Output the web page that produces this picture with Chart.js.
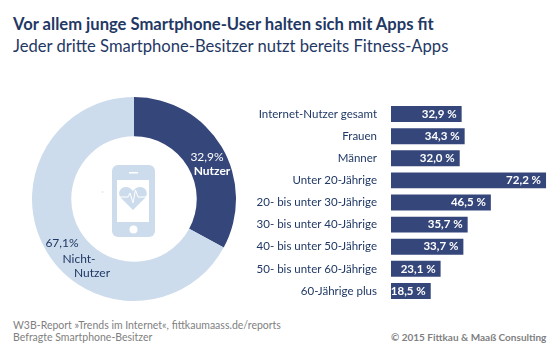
<!DOCTYPE html>
<html>
<head>
<meta charset="utf-8">
<script src="https://cdn.jsdelivr.net/npm/chart.js@4"></script>
<style>
    html, body { margin: 0; padding: 0; background: #fff; }
    body { width: 560px; height: 350px; position: relative; overflow: hidden; font-family: Lato, sans-serif; }
    canvas { position: absolute; }
    .txt { position: absolute; white-space: nowrap; line-height: 1; }
    .title { left: 13px; color: #1f3864; }
    .note { left: 13px; color: #7f7f7f; font-size: 10.5px; }
    .lbl { font-size: 12px; transform: translateX(-50%); }
</style>
</head>
<body>
<div class="txt title" style="top:16px;font-size:16.6px;font-weight:700">Vor allem junge Smartphone-User halten sich mit Apps fit</div>
<div class="txt title" style="top:38px;font-size:16.6px">Jeder dritte Smartphone-Besitzer nutzt bereits Fitness-Apps</div>

<canvas id="donut" width="220" height="220" style="left:24px;top:89px"></canvas>
<canvas id="bars" width="310" height="199" style="left:250px;top:103px"></canvas>

<svg style="position:absolute;left:100px;top:160px" width="70" height="82" viewBox="0 0 70 82">
    <rect x="12" y="5" width="43" height="72" rx="6" fill="#cddcec"/>
    <rect x="17" y="20" width="32" height="42" fill="#fff"/>
    <rect x="29" y="12" width="9" height="1.5" fill="#fff"/>
    <circle cx="33.5" cy="69.5" r="4" fill="#fff"/>
    <path d="M33 50 L21 38 C17 33 20 27 26 27 C29 27 31.500 29 33 31 C34.500 29 37 27 40 27 C46 27 49 33 45 38 Z" fill="#cddcec"/>
    <path d="M20 37 H28 L30 33 L33 43 L35.500 30 L38 37 H46" fill="none" stroke="#fff" stroke-width="1"/>
    <circle cx="2.500" cy="32" r="1" fill="#e4e8ee"/>
</svg>

<div class="txt lbl" style="left:207px;top:151px;color:#fff">32,9%</div>
<div class="txt lbl" style="left:212px;top:165px;color:#fff;font-weight:700">Nutzer</div>
<div class="txt lbl" style="left:62px;top:237px;color:#1f3864">67,1%</div>
<div class="txt lbl" style="left:79px;top:253px;color:#1f3864">Nicht-</div>
<div class="txt lbl" style="left:92px;top:267px;color:#1f3864">Nutzer</div>

<div class="txt note" style="top:320px">W3B-Report »Trends im Internet«, fittkaumaass.de/reports</div>
<div class="txt note" style="top:332px">Befragte Smartphone-Besitzer</div>
<div class="txt note" style="left:391px;top:332px;font-size:10px;font-weight:700">© 2015 Fittkau &amp; Maaß Consulting</div>

<script>
const dark = '#34467a';
const light = '#cddcec';

const donutLabels = ['Nutzer', 'Nicht-Nutzer'];
const donutValues = [32.9, 67.1];

const barLabels = [
    'Internet-Nutzer gesamt', 'Frauen', 'Männer', 'Unter 20-Jährige',
    '20- bis unter 30-Jährige', '30- bis unter 40-Jährige',
    '40- bis unter 50-Jährige', '50- bis unter 60-Jährige', '60-Jährige plus'
];
const barValues = [32.9, 34.3, 32.0, 72.2, 46.5, 35.7, 33.7, 23.1, 18.5];

// white value text at the inner end of each bar
const valueLabels = {
    id: 'valueLabels',
    afterDatasetsDraw(chart) {
        const ctx = chart.ctx;
        const meta = chart.getDatasetMeta(0);
        ctx.save();
        ctx.fillStyle = '#fff';
        ctx.font = '700 11.5px Lato, sans-serif';
        ctx.textAlign = 'right';
        ctx.textBaseline = 'middle';
        meta.data.forEach(function (bar, i) {
            let text = barValues[i].toFixed(1).replace('.', ',') + ' %';
            ctx.fillText(text, bar.x - 5, bar.y);
        });
        ctx.restore();
    }
};

new Chart(document.getElementById('donut'), {
    type: 'doughnut',
    data: {
        labels: donutLabels,
        datasets: [{ data: donutValues, backgroundColor: [dark, light], borderWidth: 0 }]
    },
    options: {
        responsive: false,
        animation: false,
        cutout: '61.5%',
        layout: { padding: 8 },
        plugins: { legend: { display: false }, tooltip: { enabled: false } }
    }
});

new Chart(document.getElementById('bars'), {
    type: 'bar',
    data: {
        labels: barLabels,
        datasets: [{
            data: barValues,
            backgroundColor: dark,
            barPercentage: 0.72,
            categoryPercentage: 1
        }]
    },
    plugins: [valueLabels],
    options: {
        indexAxis: 'y',
        responsive: false,
        animation: false,
        layout: { padding: 0 },
        scales: {
            x: { display: false, min: 0, max: 78.7 },
            y: {
                afterFit(scale) {
                    scale.width = 141;
                    scale.paddingTop = 0;
                    scale.paddingBottom = 0;
                },
                border: { display: false },
                grid: { display: false, tickLength: 14 },
                ticks: {
                    autoSkip: false,
                    padding: 0,
                    color: '#1f3864',
                    font: { family: 'Lato, sans-serif', size: 11.5 }
                }
            }
        },
        plugins: { legend: { display: false }, tooltip: { enabled: false } }
    }
});
</script>
</body>
</html>
